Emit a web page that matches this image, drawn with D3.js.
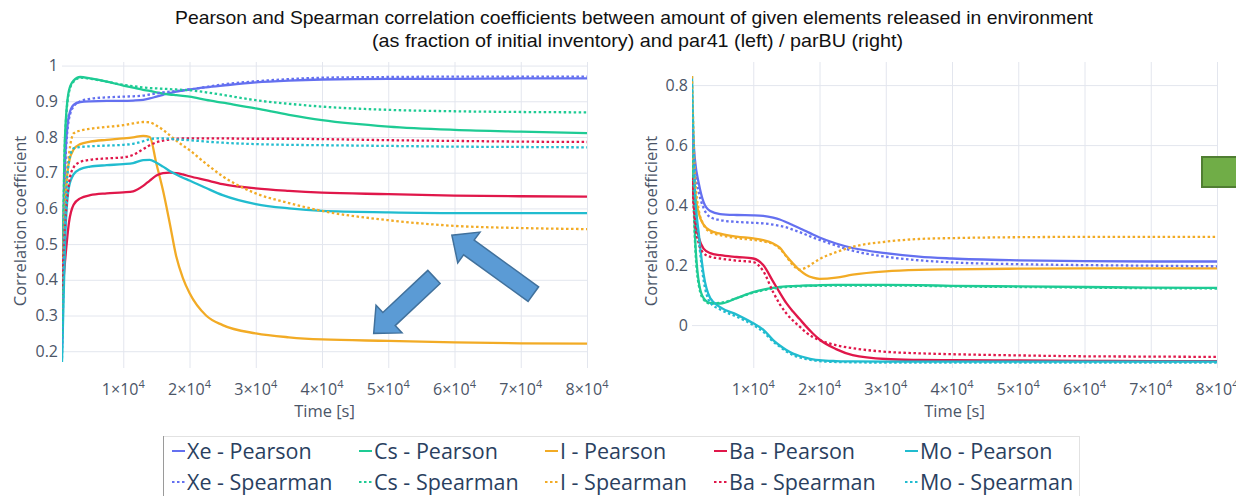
<!DOCTYPE html>
<html>
<head>
<meta charset="utf-8">
<style>
  body { margin: 0; background: #fff; }
  svg { display: block; }
  .grid line { stroke: #e3e6ee; stroke-width: 1px; }
  .grid path { display: none; }
  .ylab path, .ylab line { display: none; }
  .ylab text, .xlab { font-family: "Open Sans"; font-size: 16px; fill: #4b5567; }
  .axtitle { font-family: "Open Sans"; font-size: 16.5px; fill: #4b5567; }
  .title { font-family: "Liberation Sans", Arial; font-size: 18.5px; fill: #111; }
  .trace { fill: none; stroke-width: 2.3px; stroke-linejoin: round; }
  .dotted { stroke-dasharray: 2.5, 2.5; }
  .legend text { font-family: "Open Sans"; font-size: 21.5px; fill: #2a3f5f; }
</style>
</head>
<body>
<svg width="1236" height="496"></svg>
<script src="https://d3js.org/d3.v7.min.js"></script>
<script>
// time axis [s]
const times = [750, 1200, 1800, 2500, 3500, 5000, 7500, 10000, 11500, 13000, 14000, 15000, 16000,
  17000, 18000, 19000, 20000, 22500, 25000, 30000, 35000, 40000, 50000, 60000, 70000, 80000];

// left panel: par41
const xePearsonL = [0.20, 0.72, 0.86, 0.89, 0.898, 0.900, 0.901, 0.901, 0.902, 0.904, 0.908, 0.913, 0.918, 0.923, 0.927, 0.930, 0.933, 0.939, 0.944, 0.953, 0.958, 0.961, 0.963, 0.963, 0.964, 0.964];
const xeSpearmanL = [0.22, 0.70, 0.85, 0.885, 0.90, 0.907, 0.911, 0.913, 0.914, 0.916, 0.919, 0.922, 0.925, 0.927, 0.929, 0.931, 0.933, 0.940, 0.947, 0.956, 0.962, 0.966, 0.968, 0.969, 0.969, 0.969];
const csPearsonL = [0.25, 0.80, 0.93, 0.958, 0.968, 0.964, 0.955, 0.944, 0.938, 0.932, 0.929, 0.925, 0.922, 0.919, 0.917, 0.915, 0.913, 0.904, 0.896, 0.880, 0.862, 0.847, 0.829, 0.820, 0.815, 0.811];
const csSpearmanL = [0.24, 0.79, 0.925, 0.955, 0.966, 0.963, 0.955, 0.946, 0.942, 0.939, 0.937, 0.936, 0.935, 0.934, 0.933, 0.932, 0.931, 0.925, 0.918, 0.903, 0.893, 0.885, 0.876, 0.872, 0.870, 0.869];
const iPearsonL = [0.30, 0.60, 0.73, 0.765, 0.78, 0.787, 0.792, 0.796, 0.799, 0.803, 0.800, 0.725, 0.650, 0.560, 0.465, 0.405, 0.363, 0.300, 0.273, 0.250, 0.239, 0.233, 0.229, 0.225, 0.222, 0.221];
const iSpearmanL = [0.32, 0.62, 0.75, 0.81, 0.818, 0.823, 0.828, 0.833, 0.838, 0.842, 0.841, 0.832, 0.820, 0.805, 0.790, 0.776, 0.763, 0.725, 0.690, 0.642, 0.615, 0.593, 0.567, 0.551, 0.545, 0.542];
const baPearsonL = [0.35, 0.45, 0.56, 0.61, 0.628, 0.637, 0.642, 0.645, 0.648, 0.663, 0.678, 0.692, 0.699, 0.700, 0.699, 0.695, 0.690, 0.679, 0.668, 0.656, 0.649, 0.644, 0.640, 0.636, 0.634, 0.633];
const baSpearmanL = [0.38, 0.55, 0.67, 0.715, 0.73, 0.736, 0.740, 0.743, 0.750, 0.766, 0.777, 0.785, 0.790, 0.793, 0.795, 0.796, 0.796, 0.796, 0.796, 0.795, 0.795, 0.794, 0.791, 0.789, 0.787, 0.786];
const moPearsonL = [0.17, 0.50, 0.66, 0.695, 0.71, 0.717, 0.721, 0.724, 0.727, 0.735, 0.736, 0.728, 0.717, 0.705, 0.695, 0.686, 0.678, 0.657, 0.637, 0.612, 0.600, 0.593, 0.589, 0.587, 0.587, 0.587];
const moSpearmanL = [0.18, 0.55, 0.73, 0.768, 0.772, 0.774, 0.776, 0.778, 0.781, 0.788, 0.794, 0.796, 0.796, 0.795, 0.793, 0.792, 0.791, 0.787, 0.784, 0.780, 0.778, 0.777, 0.775, 0.773, 0.772, 0.771];

// right panel: parBU
const xePearsonR = [0.69, 0.55, 0.47, 0.41, 0.38, 0.37, 0.367, 0.366, 0.364, 0.358, 0.352, 0.343, 0.333, 0.323, 0.313, 0.302, 0.292, 0.272, 0.257, 0.240, 0.228, 0.222, 0.216, 0.213, 0.212, 0.212];
const xeSpearmanR = [0.66, 0.52, 0.44, 0.39, 0.36, 0.35, 0.344, 0.341, 0.339, 0.335, 0.331, 0.326, 0.318, 0.310, 0.301, 0.292, 0.284, 0.265, 0.248, 0.228, 0.216, 0.209, 0.203, 0.200, 0.198, 0.196];
const csPearsonR = [0.62, 0.30, 0.14, 0.09, 0.074, 0.072, 0.09, 0.11, 0.118, 0.124, 0.127, 0.129, 0.130, 0.131, 0.132, 0.132, 0.133, 0.134, 0.134, 0.134, 0.133, 0.131, 0.129, 0.127, 0.125, 0.124];
const csSpearmanR = [0.60, 0.28, 0.13, 0.085, 0.072, 0.074, 0.09, 0.108, 0.116, 0.122, 0.125, 0.127, 0.128, 0.129, 0.130, 0.131, 0.131, 0.132, 0.132, 0.132, 0.131, 0.129, 0.127, 0.125, 0.123, 0.122];
const iPearsonR = [0.64, 0.45, 0.37, 0.335, 0.315, 0.305, 0.295, 0.289, 0.283, 0.272, 0.258, 0.230, 0.205, 0.183, 0.167, 0.158, 0.154, 0.158, 0.168, 0.179, 0.184, 0.186, 0.188, 0.189, 0.189, 0.189];
const iSpearmanR = [0.83, 0.50, 0.38, 0.335, 0.31, 0.30, 0.29, 0.284, 0.279, 0.270, 0.255, 0.228, 0.200, 0.185, 0.192, 0.206, 0.220, 0.243, 0.261, 0.278, 0.287, 0.290, 0.293, 0.294, 0.294, 0.294];
const baPearsonR = [0.50, 0.36, 0.29, 0.255, 0.24, 0.233, 0.227, 0.222, 0.200, 0.145, 0.108, 0.073, 0.045, 0.020, -0.005, -0.028, -0.048, -0.080, -0.100, -0.113, -0.116, -0.117, -0.118, -0.119, -0.120, -0.120];
const baSpearmanR = [0.48, 0.34, 0.27, 0.24, 0.228, 0.222, 0.215, 0.210, 0.180, 0.110, 0.070, 0.039, 0.015, -0.005, -0.025, -0.040, -0.050, -0.067, -0.077, -0.089, -0.094, -0.097, -0.101, -0.104, -0.105, -0.106];
const moPearsonR = [0.83, 0.45, 0.30, 0.17, 0.09, 0.06, 0.035, 0.006, -0.015, -0.050, -0.068, -0.083, -0.095, -0.103, -0.109, -0.114, -0.117, -0.120, -0.121, -0.122, -0.122, -0.122, -0.122, -0.122, -0.122, -0.122];
const moSpearmanR = [0.80, 0.43, 0.28, 0.15, 0.075, 0.052, 0.028, 0.000, -0.022, -0.055, -0.072, -0.088, -0.100, -0.108, -0.113, -0.117, -0.120, -0.123, -0.124, -0.125, -0.125, -0.125, -0.125, -0.125, -0.125, -0.125];

const elements = ["Xe", "Cs", "I", "Ba", "Mo"];
const colors = ["#6470f0", "#1ecb94", "#f2ab25", "#e0174a", "#21bccf"];

const xTickValues = [10000, 20000, 30000, 40000, 50000, 60000, 70000, 80000];
const xTickMantissa = ["1", "2", "3", "4", "5", "6", "7", "8"];
const yTicksLeft = [0.2, 0.3, 0.4, 0.5, 0.6, 0.7, 0.8, 0.9, 1];
const yTickLabelsLeft = ["0.2", "0.3", "0.4", "0.5", "0.6", "0.7", "0.8", "0.9", "1"];
const yTicksRight = [0, 0.2, 0.4, 0.6, 0.8];
const yTickLabelsRight = ["0", "0.2", "0.4", "0.6", "0.8"];

// annotation arrows on left panel, [tail time, tail value, tip time, tip value]
const arrowsLeft = [[71900, 0.360, 59600, 0.525], [56900, 0.408, 47800, 0.250]];

const svg = d3.select("svg");
const plotTop = 62, plotBottom = 368;

svg.append("text").attr("class", "title").attr("x", 634).attr("y", 24)
  .attr("text-anchor", "middle")
  .attr("textLength", 918).attr("lengthAdjust", "spacingAndGlyphs")
  .text("Pearson and Spearman correlation coefficients between amount of given elements released in environment");
svg.append("text").attr("class", "title").attr("x", 637.5).attr("y", 47)
  .attr("text-anchor", "middle")
  .attr("textLength", 531).attr("lengthAdjust", "spacingAndGlyphs")
  .text("(as fraction of initial inventory) and par41 (left) / parBU (right)");

const panels = [
  { id: "L", x0: 62, x1: 587, yDomain: [0.153, 1.01], yTicks: yTicksLeft, yLabels: yTickLabelsLeft, titleX: 20,
    pearson: [xePearsonL, csPearsonL, iPearsonL, baPearsonL, moPearsonL],
    spearman: [xeSpearmanL, csSpearmanL, iSpearmanL, baSpearmanL, moSpearmanL] },
  { id: "R", x0: 692, x1: 1217, yDomain: [-0.143, 0.877], yTicks: yTicksRight, yLabels: yTickLabelsRight, titleX: 651,
    pearson: [xePearsonR, csPearsonR, iPearsonR, baPearsonR, moPearsonR],
    spearman: [xeSpearmanR, csSpearmanR, iSpearmanR, baSpearmanR, moSpearmanR] }
];

const scales = {};

panels.forEach(p => {
  const x = d3.scaleLinear().domain([750, 80000]).range([p.x0, p.x1]);
  const y = d3.scaleLinear().domain(p.yDomain).range([plotBottom, plotTop]);
  scales[p.id] = { x, y };
  const g = svg.append("g");

  g.append("g").attr("class", "grid")
    .attr("transform", `translate(0,${plotBottom})`)
    .call(d3.axisBottom(x).tickValues(xTickValues).tickSize(-(plotBottom - plotTop)).tickFormat(""));
  g.append("g").attr("class", "grid")
    .attr("transform", `translate(${p.x0},0)`)
    .call(d3.axisLeft(y).tickValues(p.yTicks).tickSize(-(p.x1 - p.x0)).tickFormat(""));

  g.append("g").attr("class", "ylab")
    .attr("transform", `translate(${p.x0 - 3},0)`)
    .call(d3.axisLeft(y).tickValues(p.yTicks).tickSize(0).tickPadding(1)
      .tickFormat((d, i) => p.yLabels[i]));

  const xl = g.selectAll(".xlab").data(xTickValues).join("text")
    .attr("class", "xlab")
    .attr("x", d => x(d))
    .attr("y", 395)
    .attr("text-anchor", "middle");
  xl.append("tspan").text((d, i) => xTickMantissa[i] + "×10");
  xl.append("tspan").attr("dy", -7).attr("font-size", 11).text("4");

  g.append("text").attr("class", "axtitle")
    .attr("x", (p.x0 + p.x1) / 2).attr("y", 417).attr("text-anchor", "middle")
    .text("Time [s]");
  g.append("text").attr("class", "axtitle")
    .attr("transform", `translate(${p.titleX + 6},221) rotate(-90)`)
    .attr("text-anchor", "middle")
    .text("Correlation coefficient");

  g.append("clipPath").attr("id", "clip" + p.id)
    .append("rect").attr("x", p.x0).attr("y", plotTop).attr("width", p.x1 - p.x0).attr("height", plotBottom - plotTop);

  const line = d3.line()
    .x((d, i) => x(times[i]))
    .y(d => y(d))
    .curve(d3.curveMonotoneX);

  const lines = g.append("g").attr("clip-path", `url(#clip${p.id})`);
  p.pearson.forEach((s, k) => {
    lines.append("path").datum(s).attr("class", "trace")
      .attr("stroke", colors[k]).attr("d", line);
  });
  p.spearman.forEach((s, k) => {
    lines.append("path").datum(s).attr("class", "trace dotted")
      .attr("stroke", colors[k]).attr("d", line);
  });
});

// block arrows
function blockArrow(x0, y0, x1, y1, sw, hw, hl) {
  const L = Math.hypot(x1 - x0, y1 - y0);
  const ux = (x1 - x0) / L, uy = (y1 - y0) / L, px = -uy, py = ux;
  const bx = x1 - ux * hl, by = y1 - uy * hl;
  const pts = [
    [x0 + px * sw / 2, y0 + py * sw / 2], [bx + px * sw / 2, by + py * sw / 2],
    [bx + px * hw / 2, by + py * hw / 2], [x1, y1],
    [bx - px * hw / 2, by - py * hw / 2], [bx - px * sw / 2, by - py * sw / 2],
    [x0 - px * sw / 2, y0 - py * sw / 2]
  ];
  return d3.line()(pts) + "Z";
}
const sL = scales.L;
svg.selectAll(".arrow").data(arrowsLeft).join("path")
  .attr("class", "arrow")
  .attr("d", a => blockArrow(sL.x(a[0]), sL.y(a[1]), sL.x(a[2]), sL.y(a[3]), 18, 38, 21))
  .attr("fill", "#5b9bd5").attr("stroke", "#41719c").attr("stroke-width", 1.5);

// green box at right edge
svg.append("rect").attr("x", 1202).attr("y", 157).attr("width", 40).attr("height", 30)
  .attr("fill", "#70ad47").attr("stroke", "#507e32").attr("stroke-width", 2);

// legend
const legX = [172, 359, 545, 714, 905];
const legY = [451, 482];
const legRows = ["Pearson", "Spearman"];
const lg = svg.append("g").attr("class", "legend");
lg.append("rect").attr("x", 163.5).attr("y", 436.5).attr("width", 916).attr("height", 70)
  .attr("fill", "none").attr("stroke", "#e2e2e2");
lg.append("line").attr("x1", 163.5).attr("x2", 163.5).attr("y1", 436).attr("y2", 496)
  .attr("stroke", "#9a9a9a");
legRows.forEach((r, ri) => {
  elements.forEach((e, k) => {
    lg.append("line")
      .attr("class", ri ? "dotted" : null)
      .attr("x1", legX[k]).attr("x2", legX[k] + 13)
      .attr("y1", legY[ri]).attr("y2", legY[ri])
      .attr("stroke", colors[k]).attr("stroke-width", 2);
    lg.append("text").attr("x", legX[k] + 15).attr("y", legY[ri])
      .attr("dy", "0.35em")
      .text(`${e} - ${r}`);
  });
});
</script>
</body>
</html>
